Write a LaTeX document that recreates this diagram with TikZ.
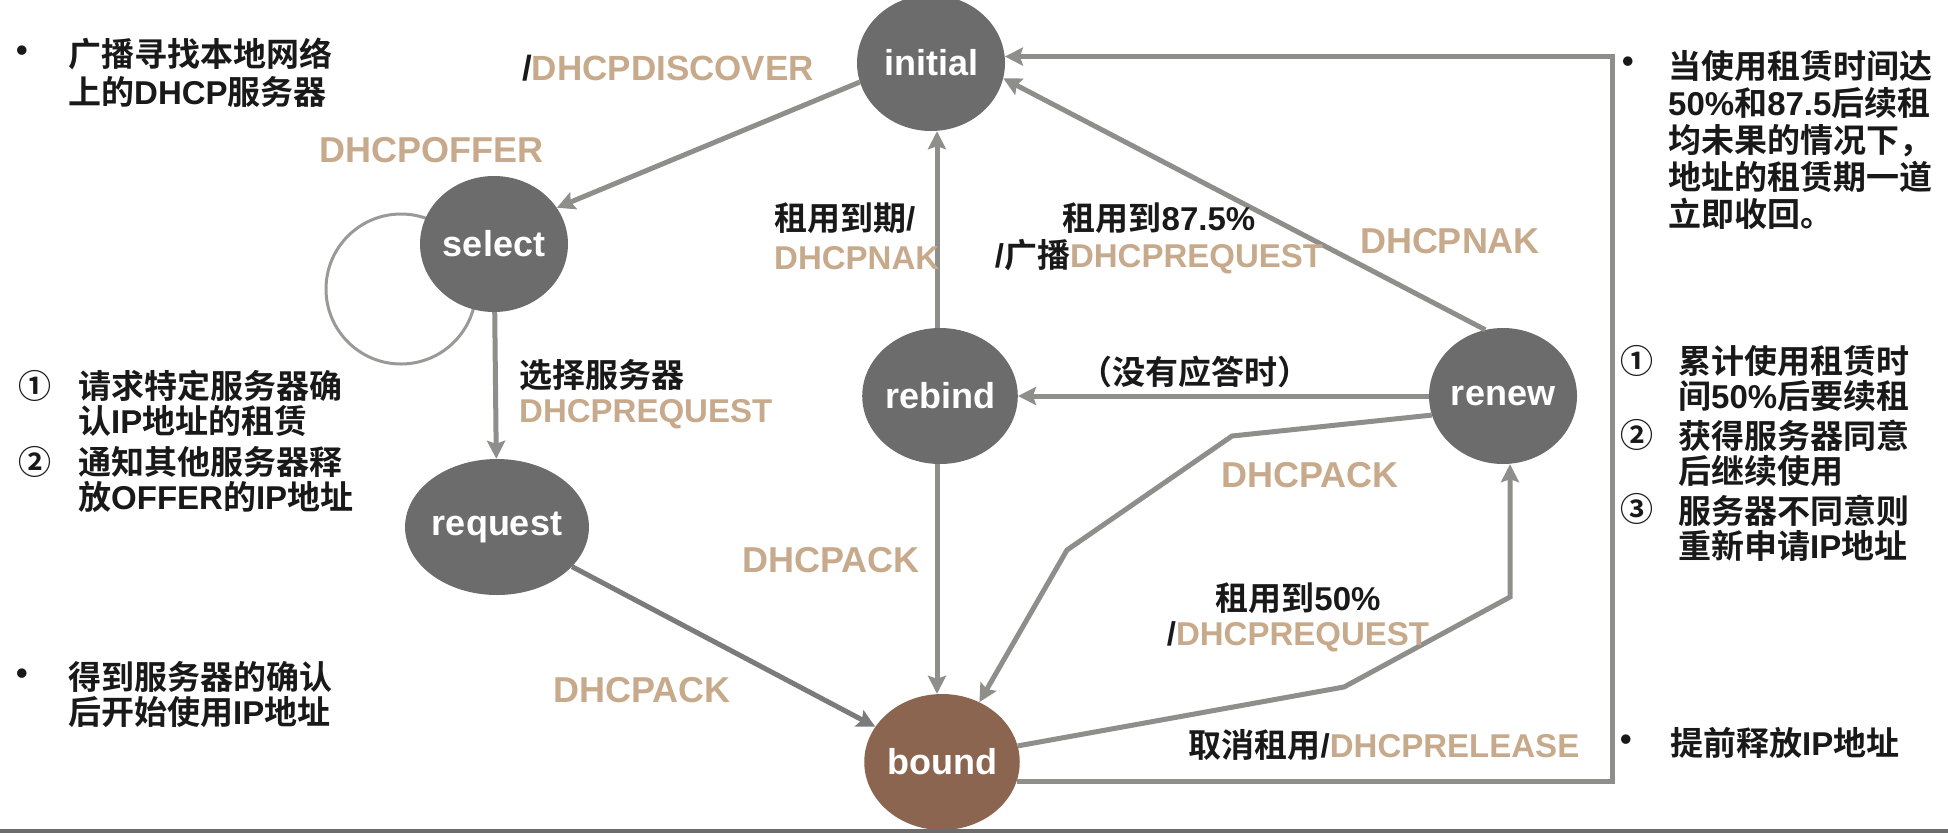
\documentclass[tikz,border=0pt]{standalone}
\usepackage{fontspec}
\setmainfont{Liberation Sans}
\newfontfamily\cjk{Noto Sans CJK SC}[BoldFont={Noto Sans CJK SC Bold}]
\usetikzlibrary{shapes.geometric}
\usetikzlibrary{arrows.meta}
\usetikzlibrary{backgrounds}

\definecolor{stategray}{RGB}{108,108,108}
\definecolor{boundbrown}{RGB}{139,101,79}
\definecolor{msgtan}{RGB}{199,170,140}
\definecolor{arrowgray}{RGB}{142,142,138}
\definecolor{textblack}{RGB}{25,25,25}

\newcommand{\zh}[1]{{\cjk #1}}
\newcommand{\msg}[1]{\textcolor{msgtan}{#1}}

\tikzset{
  state/.style={ellipse, fill=stategray, text=white, minimum width=148pt,
    minimum height=136pt, inner sep=0pt, font=\fontsize{36}{40}\selectfont\bfseries},
  arr/.style={draw=arrowgray, line width=5pt, -{Stealth[length=18pt,width=18pt,inset=3pt]}},
  note/.style={text=textblack, align=left, inner sep=0pt,
    font=\fontsize{33}{#1}\selectfont\bfseries},
  note/.default=35,
  lbl/.style={text=textblack, inner sep=0pt, font=\fontsize{33}{35}\selectfont\bfseries},
  biglbl/.style={text=msgtan, inner sep=0pt, font=\fontsize{36}{40}\selectfont\bfseries},
}

\begin{document}
\begin{tikzpicture}[x=1pt, y=-1pt]
\useasboundingbox (0,0) rectangle (1948,836);

% states
\node[state] (initial) at (931,63) {initial};
\node[state] (select) at (494,244) {select};
\node[state] (request) at (497,527) {request};
\node[state] (rebind) at (940,396) {rebind};
\node[state] (renew) at (1503,396) {renew};
\node[state, fill=boundbrown] (bound) at (942,762) {bound};

% self loop of select
\begin{scope}[on background layer]
\draw[draw=arrowgray!90, line width=3pt] ([shift={(-93,45)}]select.center) circle [radius=75];
\end{scope}

% helper coordinates
\coordinate (vline) at (937,0);
\coordinate (rline) at (1612,0);
\coordinate (ackA) at (1232,436);
\coordinate (ackB) at (1067,550);
\coordinate (reqA) at (1344,687);
\coordinate (reqB) at (1510,597);

% transitions
\draw[arr] (initial.195) -- (select.30);
\draw[arr] (select) -- (request);
\draw[arr, draw=stategray!90] (request) -- (bound);
\draw[arr] (rebind.north -| vline) -- (initial.south -| vline);
\draw[arr] (rebind.south -| vline) -- (bound.north -| vline);
\draw[arr] (renew) -- (rebind);
\draw[arr] (renew.105) -- (initial.-12);
\draw[arr] (bound.-15) -- (bound.-15 -| rline) |- (initial.5);
\draw[arr] (renew.195) -- (ackA) -- (ackB) -- (bound.58);
\draw[arr] (bound.12) -- (reqA) -- (reqB) -- (reqB |- renew.south);

% edge labels (base = baseline of the last line)
\node[lbl, anchor=west, font=\fontsize{35}{38}\selectfont\bfseries] (lblDiscover) at (522,68) {/\msg{DHCPDISCOVER}};
\node[biglbl, anchor=west] (lblOffer) at (319,150) {DHCPOFFER};
\node[note=39, anchor=base west] (lblExpire) at (774,269) {\zh{租用到期}/\\\msg{DHCPNAK}};
\node[note=37, align=center, anchor=base] (lblRebind) at (1159,267) {\zh{租用到}87.5\%\\/\zh{广播}\msg{DHCPREQUEST}};
\node[biglbl] (lblNak) at (1450,241) {DHCPNAK};
\node[note, anchor=base west] (lblChoose) at (519,422) {\zh{选择服务器}\\\msg{DHCPREQUEST}};
\node[lbl] (lblNoAck) at (1195,372) {\zh{（没有应答时）}};
\node[biglbl] (lblAckRenew) at (1310,475) {DHCPACK};
\node[biglbl] (lblAckRebind) at (831,560) {DHCPACK};
\node[biglbl] (lblAckRequest) at (642,690) {DHCPACK};
\node[note, align=center, anchor=base] (lblFifty) at (1298,645) {\zh{租用到}50\%\\/\msg{DHCPREQUEST}};
\node[lbl] (lblRelease) at (1384,745) {\zh{取消租用}/\msg{DHCPRELEASE}};

% notes on the left
\node[lbl] (dotDiscover) at (22,54) {•};
\node[note=38, anchor=base west] (noteDiscover) at (68,104) {\zh{广播寻找本地网络}\\\zh{上的}DHCP\zh{服务器}};
\node[lbl] (numSelectA) at (35,386) {\zh{①}};
\node[lbl] (numSelectB) at (35,462) {\zh{②}};
\node[note, anchor=base west] (noteSelect) at (78,509) {\zh{请求特定服务器确}\\\zh{认}IP\zh{地址的租赁}\\[6pt]\zh{通知其他服务器释}\\\zh{放}OFFER\zh{的}IP\zh{地址}};
\node[lbl] (dotBound) at (22,677) {•};
\node[note, anchor=base west] (noteBound) at (68,724) {\zh{得到服务器的确认}\\\zh{后开始使用}IP\zh{地址}};

% notes on the right
\node[lbl] (dotRevoke) at (1628,65) {•};
\node[note=37, anchor=base west] (noteRevoke) at (1668,226) {\zh{当使用租赁时间达}\\50\%\zh{和}87.5\zh{后续租}\\\zh{均未果的情况下，}\\\zh{地址的租赁期一道}\\\zh{立即收回。}};
\node[lbl] (numRenewA) at (1637,361) {\zh{①}};
\node[lbl] (numRenewB) at (1637,435) {\zh{②}};
\node[lbl] (numRenewC) at (1637,509) {\zh{③}};
\node[note, anchor=base west] (noteRenew) at (1678,558) {\zh{累计使用租赁时}\\\zh{间}50\%\zh{后要续租}\\[5pt]\zh{获得服务器同意}\\\zh{后继续使用}\\[5pt]\zh{服务器不同意则}\\\zh{重新申请}IP\zh{地址}};
\node[lbl] (dotRelease) at (1626,743) {•};
\node[lbl, anchor=west] (noteRelease) at (1670,743) {\zh{提前释放}IP\zh{地址}};

% bottom rule
\draw[line width=4pt, draw=stategray] (0,831) -- (1948,831);
\end{tikzpicture}
\end{document}
